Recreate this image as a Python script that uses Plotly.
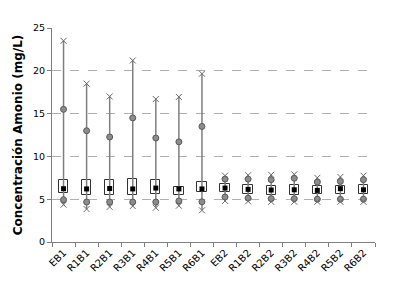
import plotly.graph_objects as go

categories = ["EB1", "R1B1", "R2B1", "R3B1", "R4B1", "R5B1", "R6B1",
              "EB2", "R1B2", "R2B2", "R3B2", "R4B2", "R5B2", "R6B2"]
max_x = [23.5, 18.5, 17.0, 21.2, 16.7, 16.95, 19.66,
         7.75, 7.8, 7.85, 7.9, 7.5, 7.6, 7.75]
upper_circle = [15.5, 13.0, 12.27, 14.5, 12.15, 11.7, 13.5,
                7.35, 7.35, 7.28, 7.45, 7.0, 7.08, 7.28]
q3 = [7.24, 7.24, 7.24, 7.36, 7.24, 6.38, 7.04,
      6.75, 6.65, 6.6, 6.7, 6.5, 6.58, 6.7]
mean = [6.23, 6.2, 6.25, 6.2, 6.3, 6.2, 6.2,
        6.3, 6.15, 6.07, 6.1, 6.03, 6.23, 6.1]
q1 = [5.72, 5.53, 5.5, 5.45, 5.6, 5.53, 5.8,
      5.84, 5.62, 5.44, 5.53, 5.56, 5.6, 5.6]
lower_circle = [4.94, 4.67, 4.67, 4.67, 4.67, 4.8, 4.7,
                5.25, 5.12, 5.06, 5.06, 5.0, 5.0, 5.0]
min_x = [4.36, 3.85, 4.1, 4.2, 4.0, 4.24, 3.7,
         4.8, 4.75, 4.7, 4.7, 4.7, 4.7, 4.7]
y_ticks = [0, 5, 10, 15, 20, 25]

font = "DejaVu Sans, Verdana, sans-serif"

wx, wy = [], []
for c, lo, hi in zip(categories, min_x, max_x):
    wx += [c, c, None]
    wy += [lo, hi, None]

fig = go.Figure()
fig.add_trace(go.Scatter(x=wx, y=wy, mode="lines",
                         line=dict(color="#7f7f7f", width=1.5),
                         hoverinfo="skip", showlegend=False))
fig.add_trace(go.Bar(x=categories, y=[a - b for a, b in zip(q3, q1)], base=q1,
                     width=0.4, marker=dict(color="white",
                                            line=dict(color="#333333", width=1)),
                     showlegend=False))
fig.add_trace(go.Scatter(x=categories, y=mean, mode="markers",
                         marker=dict(symbol="square", size=5, color="black"),
                         showlegend=False))
fig.add_trace(go.Scatter(x=categories + categories, y=upper_circle + lower_circle,
                         mode="markers",
                         marker=dict(symbol="circle", size=6, color="#8c8c8c",
                                     line=dict(color="#5a5a5a", width=1)),
                         showlegend=False))
fig.add_trace(go.Scatter(x=categories + categories, y=max_x + min_x,
                         mode="markers",
                         marker=dict(symbol="x-thin", size=6,
                                     line=dict(color="#6a6a6a", width=1)),
                         showlegend=False))

# page body has an 8px default margin, so the figure is sized/offset to compensate
fig.update_layout(
    width=390, height=282,
    margin=dict(l=44, r=23, t=20, b=48, autoexpand=False),
    paper_bgcolor="white", plot_bgcolor="white",
    font=dict(family=font, size=9, color="black"),
    bargap=0,
)
fig.update_xaxes(type="category", categoryorder="array", categoryarray=categories,
                 tickson="boundaries", ticks="outside", ticklen=4,
                 tickcolor="#7f7f7f", showline=True, linecolor="#7f7f7f",
                 linewidth=1, tickangle=-45, showgrid=False, automargin=False,
                 tickfont=dict(family=font, size=10, color="black"),
                 range=[-0.5, len(categories) - 0.5])
fig.update_yaxes(range=[0, 25], tickvals=y_ticks, ticks="outside", ticklen=4,
                 tickcolor="#7f7f7f", showline=True, linecolor="#7f7f7f",
                 linewidth=1, showgrid=True, gridcolor="#b0b0b0",
                 griddash="dash", gridwidth=1, zeroline=False, automargin=False,
                 tickfont=dict(family=font, size=9.5, color="black"),
                 title=dict(text="<b>Concentración Amonio (mg/L)</b>",
                            font=dict(family=font, size=12, color="black"),
                            standoff=7))

fig.write_html("out.html")
